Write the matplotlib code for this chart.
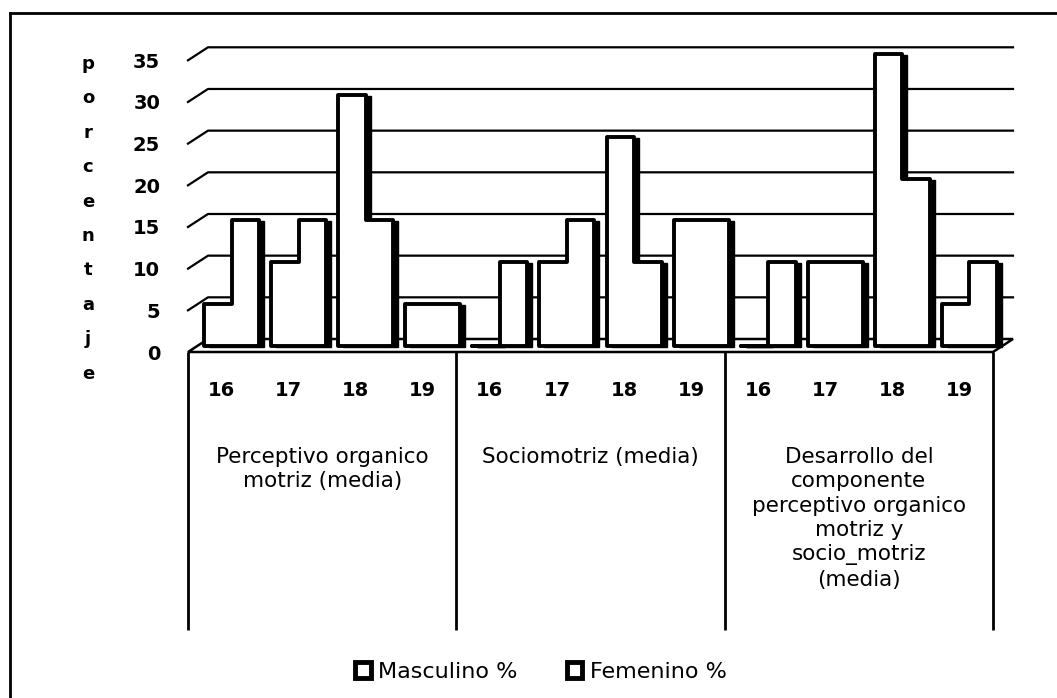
import matplotlib
matplotlib.use("Agg")
import matplotlib.pyplot as plt
from matplotlib.patches import Polygon, Patch
from matplotlib.lines import Line2D

# data
grupos = ["Perceptivo organico\nmotriz (media)",
          "Sociomotriz (media)",
          "Desarrollo del\ncomponente\nperceptivo organico\nmotriz y\nsocio_motriz\n(media)"]
edades = ["16", "17", "18", "19"]
masculino = [5, 10, 30, 5, 0, 10, 25, 15, 0, 10, 35, 5]
femenino = [15, 15, 15, 5, 10, 15, 10, 15, 10, 10, 20, 10]
yticks = [0, 5, 10, 15, 20, 25, 30, 35]
ylabel = "porcentaje"

W, H = 1057, 698
fig = plt.figure(figsize=(W / 100, H / 100), dpi=100)

# front plane of the 3d box in pixels
x0, x1 = 188, 993
y_zero, y_top = 352, 60.3
ax = fig.add_axes([x0 / W, 1 - y_zero / H, (x1 - x0) / W, (y_zero - y_top) / H])
n = len(masculino)
ax.set_xlim(-0.5, n - 0.5)
ax.set_ylim(0, 35)
for s in ax.spines.values():
    s.set_visible(False)
ax.set_xticks([])
ax.set_yticks(yticks)
ax.set_yticklabels([str(v) for v in yticks], fontsize=14, fontweight="bold")
ax.tick_params(axis="y", length=0, pad=20)

ppx = n / (x1 - x0)            # data units per pixel (x)
ppy = 35 / (y_zero - y_top)    # data units per pixel (y)
DX, DY = 20 * ppx, 13 * ppy    # depth of the box


def py(p):
    return (y_zero - p) * ppy


# back wall gridlines + diagonal ticks
for v in yticks[1:]:
    ax.plot([-0.5, -0.5 + DX, n - 0.5 + DX], [v, v + DY, v + DY],
            color="black", lw=1.6, clip_on=False, zorder=1)

# floor
floor = Polygon([(-0.5, 0), (n - 0.5, 0), (n - 0.5 + DX, DY), (-0.5 + DX, DY)],
                closed=True, facecolor="white", edgecolor="black", lw=1.8,
                clip_on=False, zorder=2)
ax.add_patch(floor)

# bars at mid depth, each pair drawn as one outline (as in the scan)
bw = 0.41
b = DY / 2
for i in range(n):
    c = i + DX / 2
    m, f = masculino[i], femenino[i]
    pts = [(c - bw, b), (c - bw, b + m), (c, b + m), (c, b + f),
           (c + bw, b + f), (c + bw, b)]
    side = [(x + 5 * ppx, y - 1 * ppy) for x, y in pts]
    ax.add_patch(Polygon(side, closed=True, facecolor="black", edgecolor="black",
                         lw=1, clip_on=False, zorder=3))
    ax.add_patch(Polygon(pts, closed=True, facecolor="white", edgecolor="black",
                         lw=2.8, joinstyle="round", clip_on=False, zorder=4))

# category table below the floor
ax.vlines([-0.5, 3.5, 7.5, n - 0.5], py(630), 0, color="black", lw=2,
          clip_on=False)
for i in range(n):
    ax.text(i, py(391), edades[i % 4], ha="center", va="center",
            fontsize=14, fontweight="bold", clip_on=False)
for g, lab in enumerate(grupos):
    ax.text(4 * g + 1.5, py(447), lab, ha="center", va="top", fontsize=15.5,
            linespacing=1.27, clip_on=False)

# vertical y label, one letter per row
for k, ch in enumerate(ylabel):
    fig.text(88 / W, 1 - (64 + k * 34.4) / H, ch, ha="center", va="center",
             fontsize=13, fontweight="bold")

# legend
handles = [Patch(facecolor="white", edgecolor="black", lw=3.5, label="Masculino %"),
           Patch(facecolor="white", edgecolor="black", lw=3.5, label="Femenino %")]
fig.legend(handles=handles, loc="center", bbox_to_anchor=(541 / W, 1 - 672 / H),
           ncol=2, frameon=False, fontsize=16, handlelength=0.7,
           handleheight=0.7, handletextpad=0.35, columnspacing=2.2)

# outer frame
fig.add_artist(Line2D([10 / W, 10 / W], [0, 1 - 13 / H], color="black", lw=2))
fig.add_artist(Line2D([10 / W, 1], [1 - 13 / H, 1 - 13 / H], color="black", lw=2))

fig.savefig("out.png", dpi=100)
